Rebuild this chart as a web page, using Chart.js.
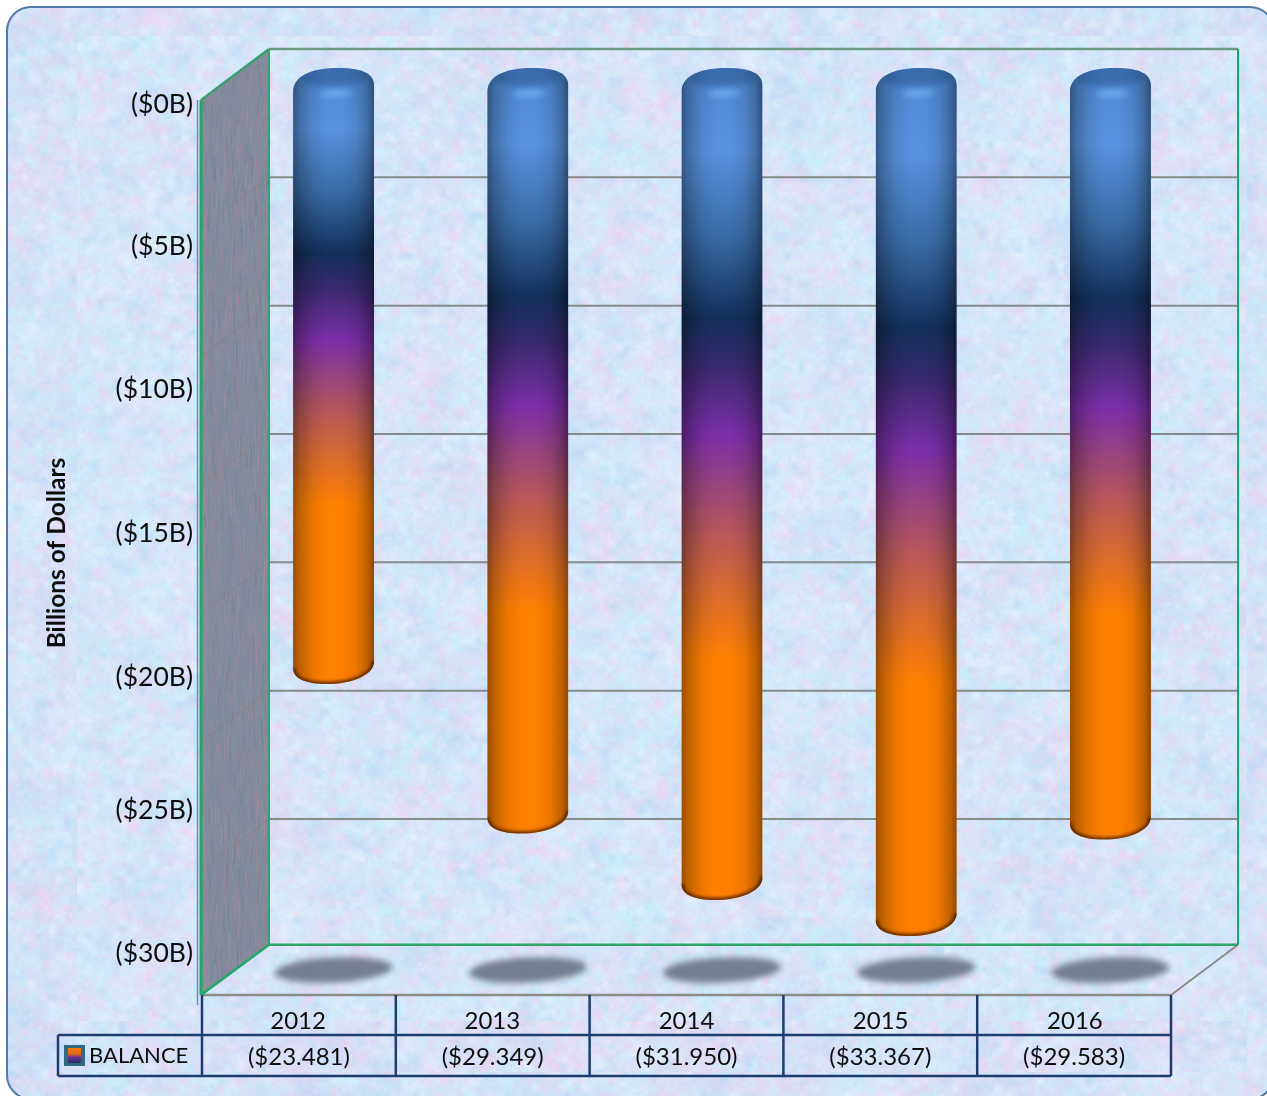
<!DOCTYPE html>
<html>
<head>
<meta charset="utf-8">
<title>Balance</title>
<script src="https://cdn.jsdelivr.net/npm/chart.js@4"></script>
<style>
    html, body { margin: 0; padding: 0; background: #fff; }
    canvas { display: block; }
</style>
</head>
<body>
<canvas id="balanceChart" width="1267" height="1096"></canvas>
<script>
const categories = ["2012", "2013", "2014", "2015", "2016"];
const balanceValues = [-23.481, -29.349, -31.95, -33.367, -29.583];
const seriesName = "BALANCE";

// the label column is not evenly spaced in the picture
const tickValues = [0, -5.05, -10.1, -15.16, -20.25, -24.95, -30];
const tickLabels = ["($0B)", "($5B)", "($10B)", "($15B)", "($20B)", "($25B)", "($30B)"];
const wallGridValues = [-5, -10, -15, -20, -25, -30];
const wallFloorValue = -34.9;

const fontName = "Lato";
const ink = "#0d0d0d";
const depthX = 34;
const capHeight = 17.5;

function makeRandom(seed) {
    let s = seed;
    return function () {
        s = (s * 1664525 + 1013904223) % 4294967296;
        return s / 4294967296;
    };
}

function noiseLayer(target, w, h, cell, palette, alpha, rand) {
    const sw = Math.ceil(w / cell) + 1;
    const sh = Math.ceil(h / cell) + 1;
    const small = document.createElement("canvas");
    small.width = sw;
    small.height = sh;
    const sctx = small.getContext("2d");
    const img = sctx.createImageData(sw, sh);
    for (let i = 0; i < sw * sh; i++) {
        const c = palette[Math.floor(rand() * palette.length)];
        img.data[i * 4] = c[0];
        img.data[i * 4 + 1] = c[1];
        img.data[i * 4 + 2] = c[2];
        img.data[i * 4 + 3] = 255 * alpha * rand();
    }
    sctx.putImageData(img, 0, 0);
    target.imageSmoothingEnabled = true;
    target.imageSmoothingQuality = "high";
    target.drawImage(small, 0, 0, sw * cell, sh * cell);
}

function texture(w, h, seed, base, palette) {
    const c = document.createElement("canvas");
    c.width = w;
    c.height = h;
    const t = c.getContext("2d");
    const rand = makeRandom(seed);
    t.fillStyle = base;
    t.fillRect(0, 0, w, h);
    noiseLayer(t, w, h, 46, palette, 0.9, rand);
    noiseLayer(t, w, h, 17, palette, 0.8, rand);
    noiseLayer(t, w, h, 7, palette, 0.75, rand);
    noiseLayer(t, w, h, 3, palette, 0.4, rand);
    return c;
}

const paperColors = [
    [240, 208, 238], [194, 240, 250], [186, 216, 246],
    [222, 216, 246], [210, 234, 252], [232, 244, 252]
];

function drawPaper(ctx) {
    ctx.save();
    ctx.fillStyle = "#fff";
    ctx.fillRect(0, 0, 1267, 1096);

    ctx.beginPath();
    ctx.roundRect(7, 7, 1267, 1092, 24);
    ctx.save();
    ctx.clip();
    ctx.drawImage(texture(1267, 1096, 11, "#cfdcf6", paperColors), 0, 0);
    ctx.drawImage(texture(1170, 985, 29, "#d2eafa", paperColors), 77, 36);
    ctx.drawImage(texture(1170, 51, 47, "#e0d8f4", paperColors), 77, 1021);
    ctx.restore();

    ctx.strokeStyle = "#557aa8";
    ctx.lineWidth = 2;
    ctx.stroke();
    ctx.restore();
}

function line(ctx, x0, y0, x1, y1, color, width) {
    ctx.strokeStyle = color;
    ctx.lineWidth = width;
    ctx.beginPath();
    ctx.moveTo(x0, y0);
    ctx.lineTo(x1, y1);
    ctx.stroke();
}

function drawWalls(chart) {
    const ctx = chart.ctx;
    const wall = chart.scales.wall;
    const backTop = wall.getPixelForValue(0);
    const backBottom = wall.getPixelForValue(wallFloorValue);
    const left = 201, back = 269, right = 1238, frontX = 1171;
    const frontTop = 100, frontBottom = 995;

    // side wall
    ctx.save();
    ctx.beginPath();
    ctx.moveTo(left, frontTop);
    ctx.lineTo(back, backTop);
    ctx.lineTo(back, backBottom);
    ctx.lineTo(left, frontBottom);
    ctx.closePath();
    ctx.clip();
    ctx.fillStyle = "#848b9c";
    ctx.fillRect(left, backTop, back - left, frontBottom - backTop);
    const rand = makeRandom(5);
    const streaks = ["#a0849a", "#6f8a98", "#949aa8", "#6f7b90", "#8f9292", "#a88c9c"];
    for (let i = 0; i < 1500; i++) {
        const x = left + rand() * (back - left);
        const y = backTop + rand() * (frontBottom - backTop);
        ctx.globalAlpha = 0.5;
        line(ctx, x, y, x + rand() * 4 - 2, y + 8 + rand() * 22, streaks[Math.floor(rand() * streaks.length)], 1);
    }
    ctx.globalAlpha = 0.45;
    wallGridValues.forEach(v => {
        const y = wall.getPixelForValue(v);
        line(ctx, back, y, left, y + 51, "#8d7f78", 1.5);
    });
    ctx.restore();

    // back wall grid
    wallGridValues.forEach(v => {
        const y = wall.getPixelForValue(v);
        line(ctx, back, y, right, y, "#858a8a", 2);
    });

    // floor edges and frame
    line(ctx, left, frontBottom, frontX, frontBottom, "#8c8c88", 2.5);
    line(ctx, right, backBottom, frontX, frontBottom, "#8c8c88", 2);
    line(ctx, back, backTop, right, backTop, "#6c9a82", 2.5);
    line(ctx, back, backBottom, right, backBottom, "#2fa56c", 2.5);
    line(ctx, back, backTop, back, backBottom, "#2fa56c", 2);
    line(ctx, right, backTop, right, backBottom, "#14aa66", 2);
    line(ctx, left, frontTop, left, frontBottom, "#1fa866", 3);
    line(ctx, left, frontTop, back, backTop, "#3b9f72", 2.5);
    line(ctx, left, frontBottom, back, backBottom, "#1fa866", 2.5);
    line(ctx, 197.5, frontTop, 197.5, 1005, "#5c8ec8", 1.5);
}

function drawShadows(chart) {
    const ctx = chart.ctx;
    ctx.save();
    ctx.filter = "blur(3px)";
    ctx.fillStyle = "rgba(102, 112, 130, 0.88)";
    chart.getDatasetMeta(0).data.forEach(bar => {
        ctx.beginPath();
        ctx.ellipse(bar.x, 970, 59, 12.5, -0.05, 0, Math.PI * 2);
        ctx.fill();
    });
    ctx.restore();
}

function barGradient(chart, index) {
    const y = chart.scales.y;
    const top = y.getPixelForValue(0) - capHeight;
    const bottom = y.getPixelForValue(balanceValues[index]);
    // options get resolved once before the scales have a size
    if (!Number.isFinite(top) || !Number.isFinite(bottom))
        return "#ff8000";
    const g = chart.ctx.createLinearGradient(0, top, 0, bottom);
    g.addColorStop(0, "#4d88d2");
    g.addColorStop(0.1, "#5792de");
    g.addColorStop(0.2, "#3a6ba8");
    g.addColorStop(0.3, "#12305a");
    g.addColorStop(0.36, "#3a2a70");
    g.addColorStop(0.44, "#7a2ea8");
    g.addColorStop(0.56, "#b85858");
    g.addColorStop(0.71, "#ff8000");
    g.addColorStop(1, "#ff8000");
    return g;
}

function cylinderPath(ctx, bar) {
    const w = bar.width;
    const x0 = bar.x - w / 2;
    const x1 = bar.x + w / 2;
    const top = bar.base - capHeight;
    const yb = bar.y;
    ctx.moveTo(x0, top + 24);
    ctx.bezierCurveTo(x0, top + 9, x0 + w * 0.2, top, x0 + w * 0.55, top);
    ctx.bezierCurveTo(x0 + w * 0.84, top, x1, top + 5, x1, top + 18);
    ctx.lineTo(x1, yb - 23);
    ctx.bezierCurveTo(x1, yb - 8, x1 - w * 0.3, yb, x0 + w * 0.42, yb);
    ctx.bezierCurveTo(x0 + w * 0.14, yb, x0, yb - 6, x0, yb - 16);
    ctx.closePath();
}

function shadeCylinders(chart) {
    const ctx = chart.ctx;
    chart.getDatasetMeta(0).data.forEach((bar, i) => {
        const w = bar.width;
        const x0 = bar.x - w / 2;
        const x1 = bar.x + w / 2;
        const top = bar.base - capHeight;
        const yb = bar.y;
        ctx.save();
        ctx.beginPath();
        cylinderPath(ctx, bar);
        ctx.clip();

        // the bar itself starts at zero, the cap sits above it
        ctx.fillStyle = barGradient(chart, i);
        ctx.fillRect(x0, top, w, bar.base - top + 1);

        const h = ctx.createLinearGradient(x0, 0, x1, 0);
        h.addColorStop(0, "rgba(0,0,0,0.4)");
        h.addColorStop(0.08, "rgba(0,0,0,0.25)");
        h.addColorStop(0.25, "rgba(0,0,0,0.08)");
        h.addColorStop(0.42, "rgba(0,0,0,0)");
        h.addColorStop(0.6, "rgba(0,0,0,0)");
        h.addColorStop(0.78, "rgba(0,0,0,0.08)");
        h.addColorStop(0.92, "rgba(0,0,0,0.25)");
        h.addColorStop(1, "rgba(0,0,0,0.44)");
        ctx.fillStyle = h;
        ctx.fillRect(x0, top, w, yb - top);

        ctx.filter = "blur(3px)";
        ctx.fillStyle = "rgba(36, 74, 126, 0.45)";
        ctx.beginPath();
        ctx.ellipse(bar.x + 2, top + 7, w * 0.46, 11, -0.05, 0, Math.PI * 2);
        ctx.fill();
        ctx.fillStyle = "rgba(130, 195, 250, 0.8)";
        ctx.beginPath();
        ctx.ellipse(bar.x + 2, top + 25, w * 0.2, 2.5, -0.05, 0, Math.PI * 2);
        ctx.fill();

        // dark rim along the bottom curve only
        ctx.filter = "blur(1.5px)";
        ctx.beginPath();
        ctx.moveTo(x1, yb - 23);
        ctx.bezierCurveTo(x1, yb - 8, x1 - w * 0.3, yb, x0 + w * 0.42, yb);
        ctx.bezierCurveTo(x0 + w * 0.14, yb, x0, yb - 6, x0, yb - 16);
        ctx.strokeStyle = "rgba(80, 32, 0, 0.8)";
        ctx.lineWidth = 5;
        ctx.stroke();
        ctx.restore();
    });
}

function drawTable(chart) {
    const ctx = chart.ctx;
    const x = chart.scales.x;
    const navy = "#1d3d6e";
    const rowTop = 1035, rowBottom = 1076, headTop = 995, tableLeft = 58;
    const band = x.getPixelForValue(1) - x.getPixelForValue(0);
    const first = x.getPixelForValue(0) - depthX - band / 2 - 0.5;
    const step = band - 0.4;
    const last = first + step * categories.length;

    for (let i = 0; i <= categories.length; i++) {
        line(ctx, first + step * i, headTop, first + step * i, rowBottom, navy, 2.5);
    }
    line(ctx, tableLeft, rowTop, last, rowTop, navy, 2.5);
    line(ctx, tableLeft, rowBottom, last, rowBottom, navy, 2.5);
    line(ctx, tableLeft, rowTop, tableLeft, rowBottom, navy, 2.5);

    // legend key
    const k = ctx.createLinearGradient(0, 1047, 0, 1063);
    k.addColorStop(0, "#ff8000");
    k.addColorStop(0.45, "#d8641a");
    k.addColorStop(0.65, "#6a2e98");
    k.addColorStop(1, "#1c3560");
    ctx.fillStyle = "#2f6a80";
    ctx.fillRect(64, 1045, 21, 21);
    ctx.fillStyle = k;
    ctx.fillRect(68, 1048, 13, 15);

    ctx.fillStyle = ink;
    ctx.font = "22px " + fontName;
    ctx.textBaseline = "middle";
    ctx.textAlign = "left";
    ctx.fillText(seriesName, 89, 1056);
    ctx.font = "24px " + fontName;
    ctx.textAlign = "center";
    balanceValues.forEach((v, i) => {
        const text = "($" + Math.abs(v).toFixed(3) + ")";
        ctx.fillText(text, first + step * (i + 0.5), 1057);
    });

    ctx.save();
    ctx.translate(57, 553);
    ctx.rotate(-Math.PI / 2);
    ctx.font = "bold 24.5px " + fontName;
    ctx.fillText("Billions of Dollars", 0, 0);
    ctx.restore();
}

const cylinderPlugin = {
    id: "cylinders",
    beforeDraw(chart) {
        drawPaper(chart.ctx);
        drawWalls(chart);
        drawShadows(chart);
    },
    beforeDatasetDraw(chart) {
        const ctx = chart.ctx;
        ctx.save();
        ctx.beginPath();
        chart.getDatasetMeta(0).data.forEach(bar => cylinderPath(ctx, bar));
        ctx.clip();
    },
    afterDatasetDraw(chart) {
        chart.ctx.restore();
        shadeCylinders(chart);
    },
    afterDraw(chart) {
        drawTable(chart);
    }
};

new Chart(balanceChart, {
    type: "bar",
    plugins: [cylinderPlugin],
    data: {
        labels: categories,
        datasets: [{
            label: seriesName,
            data: balanceValues,
            yAxisID: "y",
            clip: false,
            categoryPercentage: 1,
            barPercentage: 0.4175,
            backgroundColor: c => barGradient(c.chart, c.dataIndex)
        }]
    },
    options: {
        responsive: false,
        animation: false,
        layout: {
            padding: { top: 85.5, right: 59.5, left: 0, bottom: 0 }
        },
        plugins: {
            legend: { display: false },
            title: { display: false },
            tooltip: { enabled: false }
        },
        scales: {
            x: {
                grid: { display: false, drawTicks: false },
                border: { display: false },
                afterFit(scale) { scale.height = 118.35; },
                ticks: {
                    color: ink,
                    font: { family: fontName, size: 24 },
                    labelOffset: -35.5,
                    padding: 29,
                    maxRotation: 0
                }
            },
            // bars
            y: {
                type: "linear",
                axis: "y",
                display: false,
                min: -35,
                max: 0
            },
            // back wall sits higher than the bars in the 3d box
            wall: {
                type: "linear",
                axis: "y",
                display: false,
                min: -36.18,
                max: -1.422
            },
            // label column on the front edge
            yLabels: {
                type: "linear",
                axis: "y",
                position: "left",
                min: -30.87,
                max: 0.654,
                grid: { display: false, drawTicks: false },
                border: { display: false },
                afterFit(scale) { scale.width = 236.5; },
                afterBuildTicks(scale) {
                    scale.ticks = tickValues.map(v => ({ value: v }));
                },
                ticks: {
                    color: ink,
                    autoSkip: false,
                    padding: 43.5,
                    font: { family: fontName, size: 26.5 },
                    callback: (value, index) => tickLabels[index]
                }
            }
        }
    }
});
</script>
</body>
</html>
